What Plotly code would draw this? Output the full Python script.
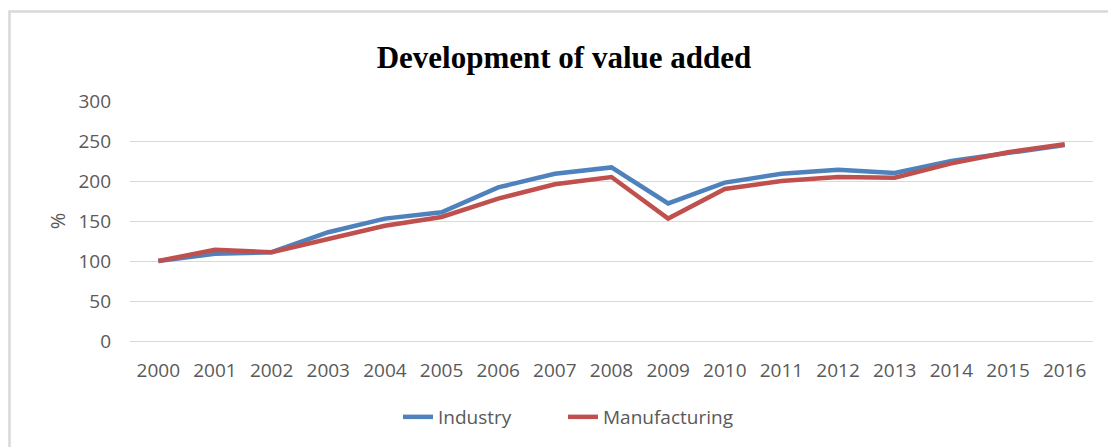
import plotly.graph_objects as go

# Index of value added (2000 = 100)
years = [str(y) for y in range(2000, 2017)]
industry = [100, 109, 111, 136, 153, 161, 192, 209, 217, 172, 198, 209, 214, 210, 225, 235, 245]
manufacturing = [100, 114, 111, 128, 144, 155, 178, 196, 205, 153, 190, 200, 205, 204, 222, 236, 246]

W, H = 1108, 447
TEXT = "#595959"
GRID = "#d9d9d9"
FONT = "Open Sans, Noto Sans, sans-serif"

fig = go.Figure()
fig.add_trace(go.Scatter(x=years, y=industry, name="Industry", mode="lines",
                         line=dict(color="#4F81BD", width=4.5), legend="legend"))
fig.add_trace(go.Scatter(x=years, y=manufacturing, name="Manufacturing", mode="lines",
                         line=dict(color="#C0504D", width=4.5), legend="legend2"))

legend_style = dict(orientation="h", yanchor="middle", y=1 - 417 / H, xanchor="left",
                    font=dict(size=19, color=TEXT), bgcolor="rgba(0,0,0,0)")

fig.update_layout(
    width=W, height=H,
    autosize=False,
    margin=dict(l=0, r=0, t=0, b=0, pad=0),
    paper_bgcolor="white", plot_bgcolor="white",
    font=dict(family=FONT, size=19, color=TEXT),
    title=dict(text="<b>Development of value added</b>",
               font=dict(family="Liberation Serif, Times New Roman, serif", size=31, color="black"),
               x=564 / W, xanchor="center", y=1 - 57 / H, yanchor="middle", automargin=False),
    xaxis=dict(domain=[130 / W, 1093 / W], type="category", range=[-0.5, 16.5],
               showgrid=False, showline=False, ticks="", ticklabelstandoff=16,
               automargin=False, tickfont=dict(size=19, color=TEXT)),
    yaxis=dict(domain=[1 - 341 / H, 1 - 101 / H], range=[0, 300], dtick=50,
               showgrid=True, gridcolor=GRID, gridwidth=1,
               zeroline=True, zerolinecolor=GRID, zerolinewidth=1,
               showline=False, ticks="", ticklabelstandoff=18, automargin=False,
               tickfont=dict(size=19, color=TEXT),
               title=dict(text="%", standoff=7, font=dict(size=20, color=TEXT))),
    legend=dict(legend_style, x=398 / W),
    legend2=dict(legend_style, x=563 / W),
    showlegend=True,
    shapes=[dict(type="rect", xref="paper", yref="paper",
                 x0=9.5 / W, x1=1.2, y0=-0.2, y1=1 - 11.5 / H,
                 line=dict(color=GRID, width=2.5), fillcolor="rgba(0,0,0,0)", layer="below")],
)

fig.write_html("out.html")
